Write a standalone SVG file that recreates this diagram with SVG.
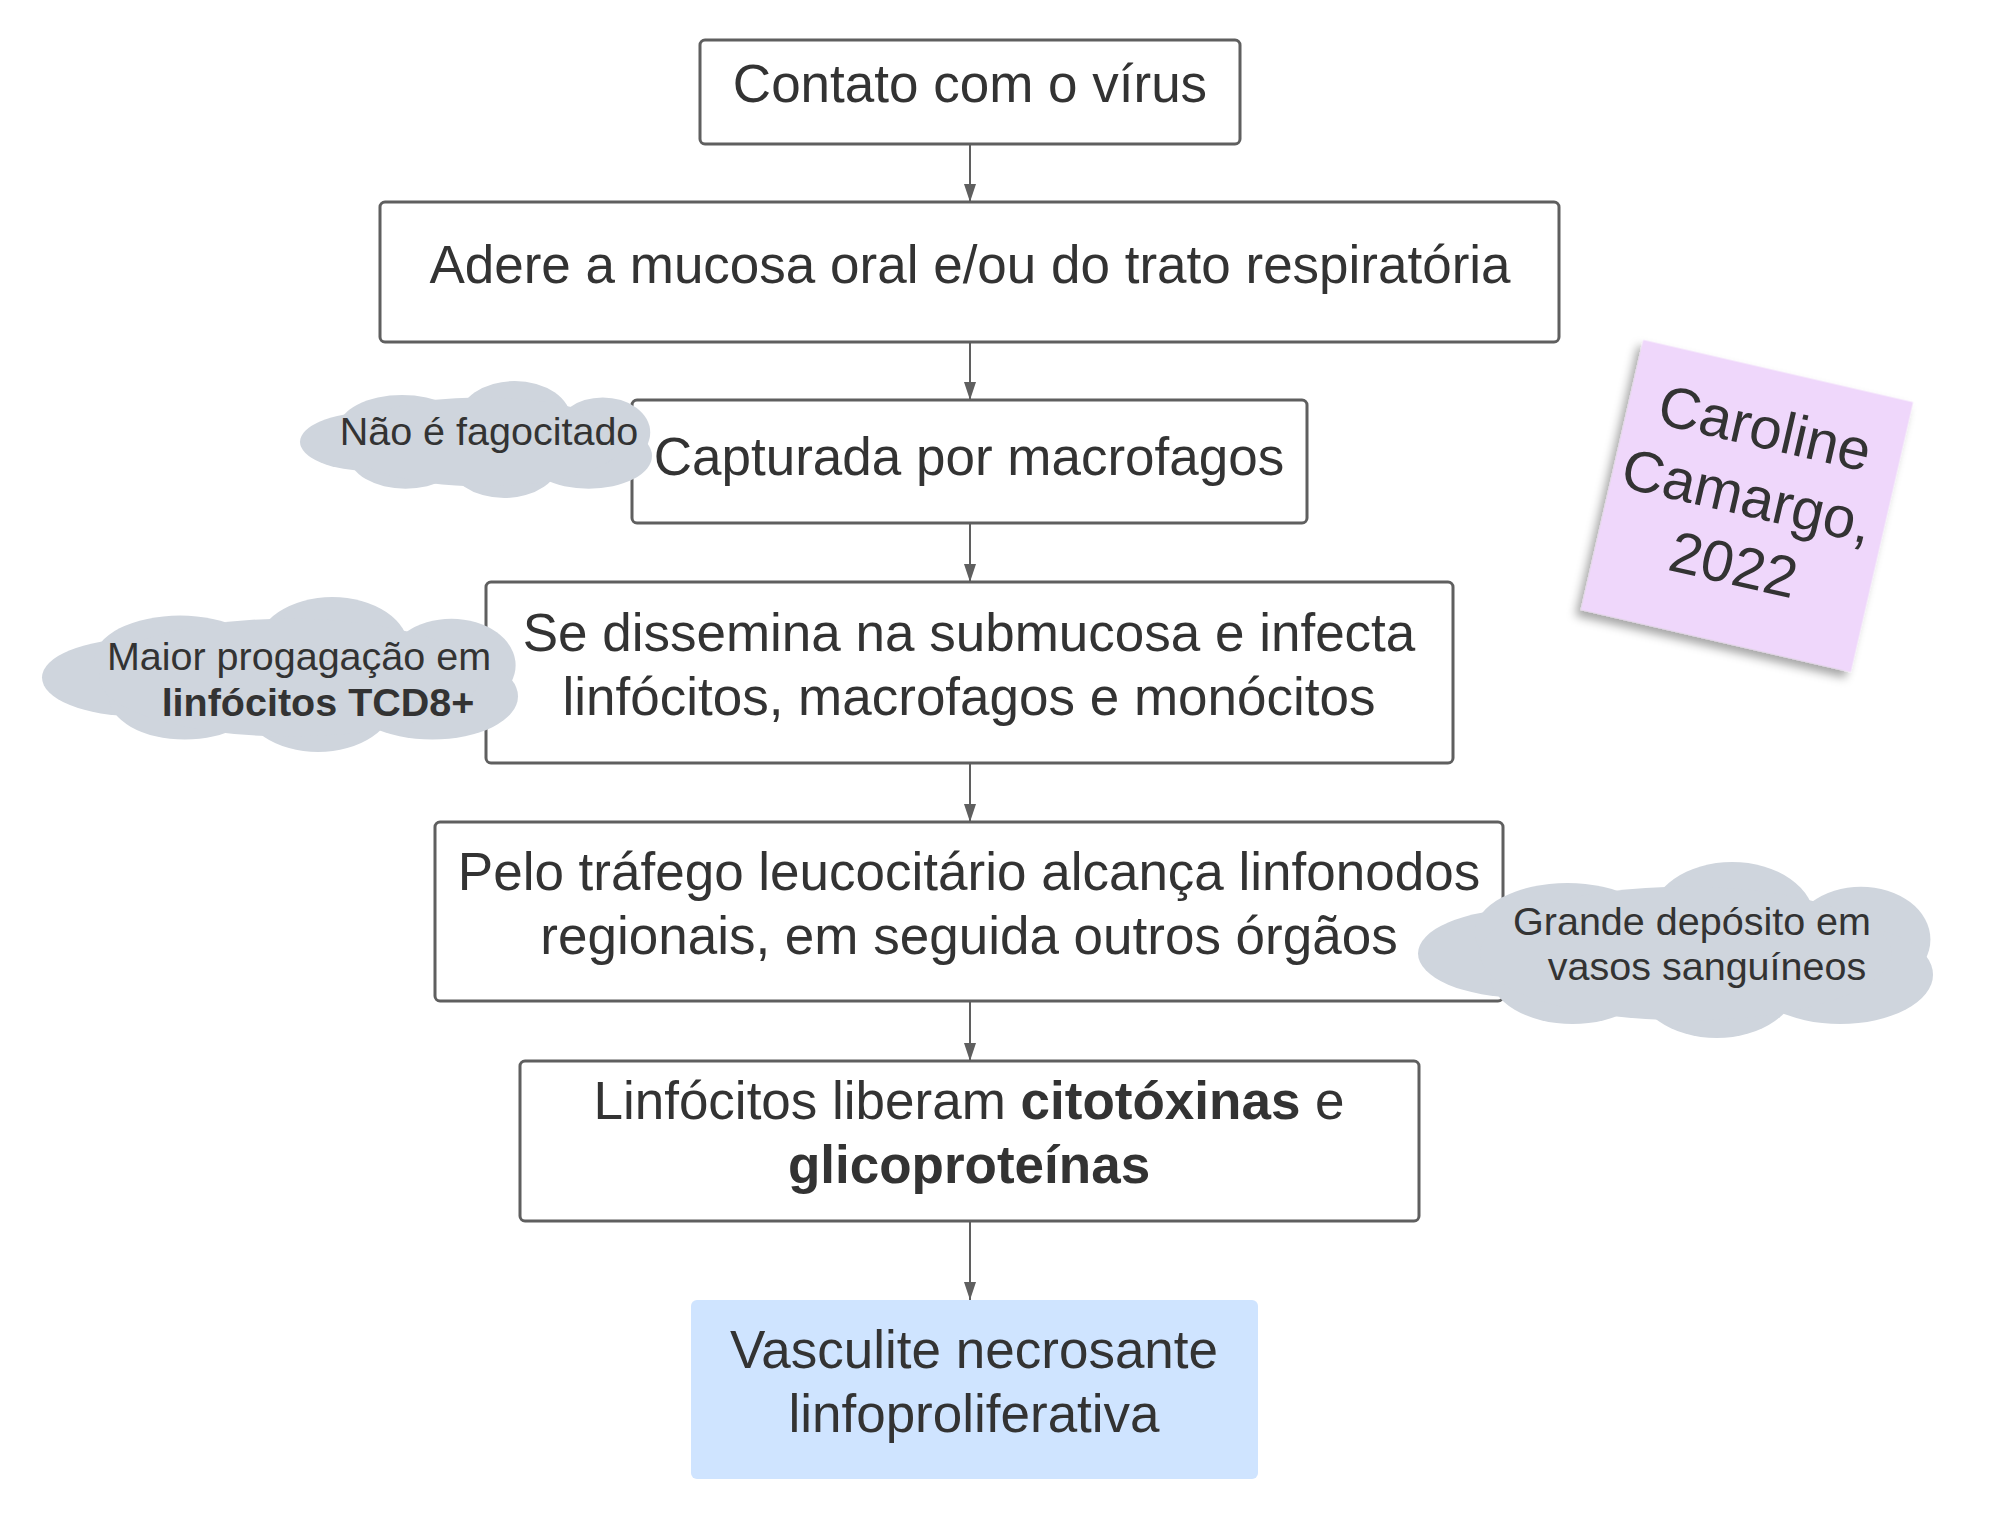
<svg xmlns="http://www.w3.org/2000/svg" xmlns:xlink="http://www.w3.org/1999/xlink" width="2006" height="1520" viewBox="0 0 2006 1520">
<style>
.box{fill:none;stroke:#5f5f5f;stroke-width:3}
.t{font-family:"Liberation Sans",Arial,sans-serif;font-size:53px;fill:#333333;text-anchor:middle}
.ct{font-family:"Liberation Sans",Arial,sans-serif;font-size:39.5px;fill:#333333;text-anchor:middle}
.st{font-family:"Liberation Sans",Arial,sans-serif;font-size:58px;fill:#333333;text-anchor:middle}
.b{font-weight:bold}
.conn{stroke:#5f5f5f;stroke-width:2;fill:none;marker-end:url(#ah)}
.cloud{fill:#cfd5dd}
</style>
<defs>
<marker id="ah" markerUnits="userSpaceOnUse" markerWidth="18" markerHeight="12" refX="18" refY="6" orient="auto">
<path d="M0,0 L18,6 L0,12 z" fill="#5f5f5f"/>
</marker>
<g id="cloudShape">
<ellipse cx="20" cy="52" rx="20" ry="25"/>
<ellipse cx="29" cy="40" rx="18" ry="28"/>
<ellipse cx="61" cy="33" rx="16" ry="33"/>
<ellipse cx="86" cy="44" rx="13.5" ry="30"/>
<ellipse cx="82" cy="64" rx="18" ry="28"/>
<ellipse cx="58" cy="67" rx="16" ry="33"/>
<ellipse cx="30" cy="64" rx="16" ry="28"/>
<ellipse cx="52" cy="52" rx="40" ry="38"/>
</g>
<filter id="shadow" x="-20%" y="-20%" width="140%" height="140%">
<feDropShadow dx="-4" dy="7" stdDeviation="5" flood-color="#000" flood-opacity="0.35"/>
</filter>
</defs>

<g id="connectors">
<line class="conn" x1="970" y1="144" x2="970" y2="202"/>
<line class="conn" x1="970" y1="342" x2="970" y2="400"/>
<line class="conn" x1="970" y1="523" x2="970" y2="582"/>
<line class="conn" x1="970" y1="763" x2="970" y2="822"/>
<line class="conn" x1="970" y1="1001" x2="970" y2="1061"/>
<line class="conn" x1="970" y1="1221" x2="970" y2="1300"/>
</g>

<g id="n1">
<rect class="box" x="700" y="40" width="540" height="104" rx="5"/>
<text class="t" x="970" y="102">Contato com o vírus</text>
</g>
<g id="n2">
<rect class="box" x="380" y="202" width="1179" height="140" rx="5"/>
<text class="t" x="970" y="283">Adere a mucosa oral e/ou do trato respiratória</text>
</g>
<g id="n3">
<rect class="box" x="632" y="400" width="675" height="123" rx="5"/>
<text class="t" x="969" y="475">Capturada por macrofagos</text>
</g>
<g id="n4">
<rect class="box" x="486" y="582" width="967" height="181" rx="5"/>
<text class="t" x="969" y="651">Se dissemina na submucosa e infecta</text>
<text class="t" x="969" y="715">linfócitos, macrofagos e monócitos</text>
</g>
<g id="n5">
<rect class="box" x="435" y="822" width="1068" height="179" rx="5"/>
<text class="t" x="969" y="890">Pelo tráfego leucocitário alcança linfonodos</text>
<text class="t" x="969" y="954">regionais, em seguida outros órgãos</text>
</g>
<g id="n6">
<rect class="box" x="520" y="1061" width="899" height="160" rx="5"/>
<text class="t" x="969" y="1119">Linfócitos liberam <tspan class="b">citotóxinas</tspan> e</text>
<text class="t b" x="969" y="1183">glicoproteínas</text>
</g>
<g id="n7">
<rect x="691" y="1300" width="567" height="179" rx="6" fill="#cfe4ff"/>
<text class="t" x="974" y="1368">Vasculite necrosante</text>
<text class="t" x="974" y="1432">linfoproliferativa</text>
</g>

<g id="c1">
<use xlink:href="#cloudShape" class="cloud" transform="translate(300,381) scale(3.52,1.17)"/>
<text class="ct" x="489" y="445">Não é fagocitado</text>
</g>
<g id="c2">
<use xlink:href="#cloudShape" class="cloud" transform="translate(42,597) scale(4.76,1.55)"/>
<text class="ct" x="299" y="670">Maior progagação em</text>
<text class="ct b" x="318" y="716">linfócitos TCD8+</text>
</g>
<g id="c3">
<use xlink:href="#cloudShape" class="cloud" transform="translate(1418,862) scale(5.15,1.76)"/>
<text class="ct" x="1692" y="935">Grande depósito em</text>
<text class="ct" x="1707" y="980">vasos sanguíneos</text>
</g>

<g id="sticky" transform="translate(1747,506) rotate(13)">
<rect x="-138.5" y="-138.5" width="277" height="277" fill="#efd7fb" filter="url(#shadow)"/>
<text class="st" x="0" y="-60">Caroline</text>
<text class="st" x="-2" y="10">Camargo,</text>
<text class="st" x="0" y="80">2022</text>
</g>
</svg>
